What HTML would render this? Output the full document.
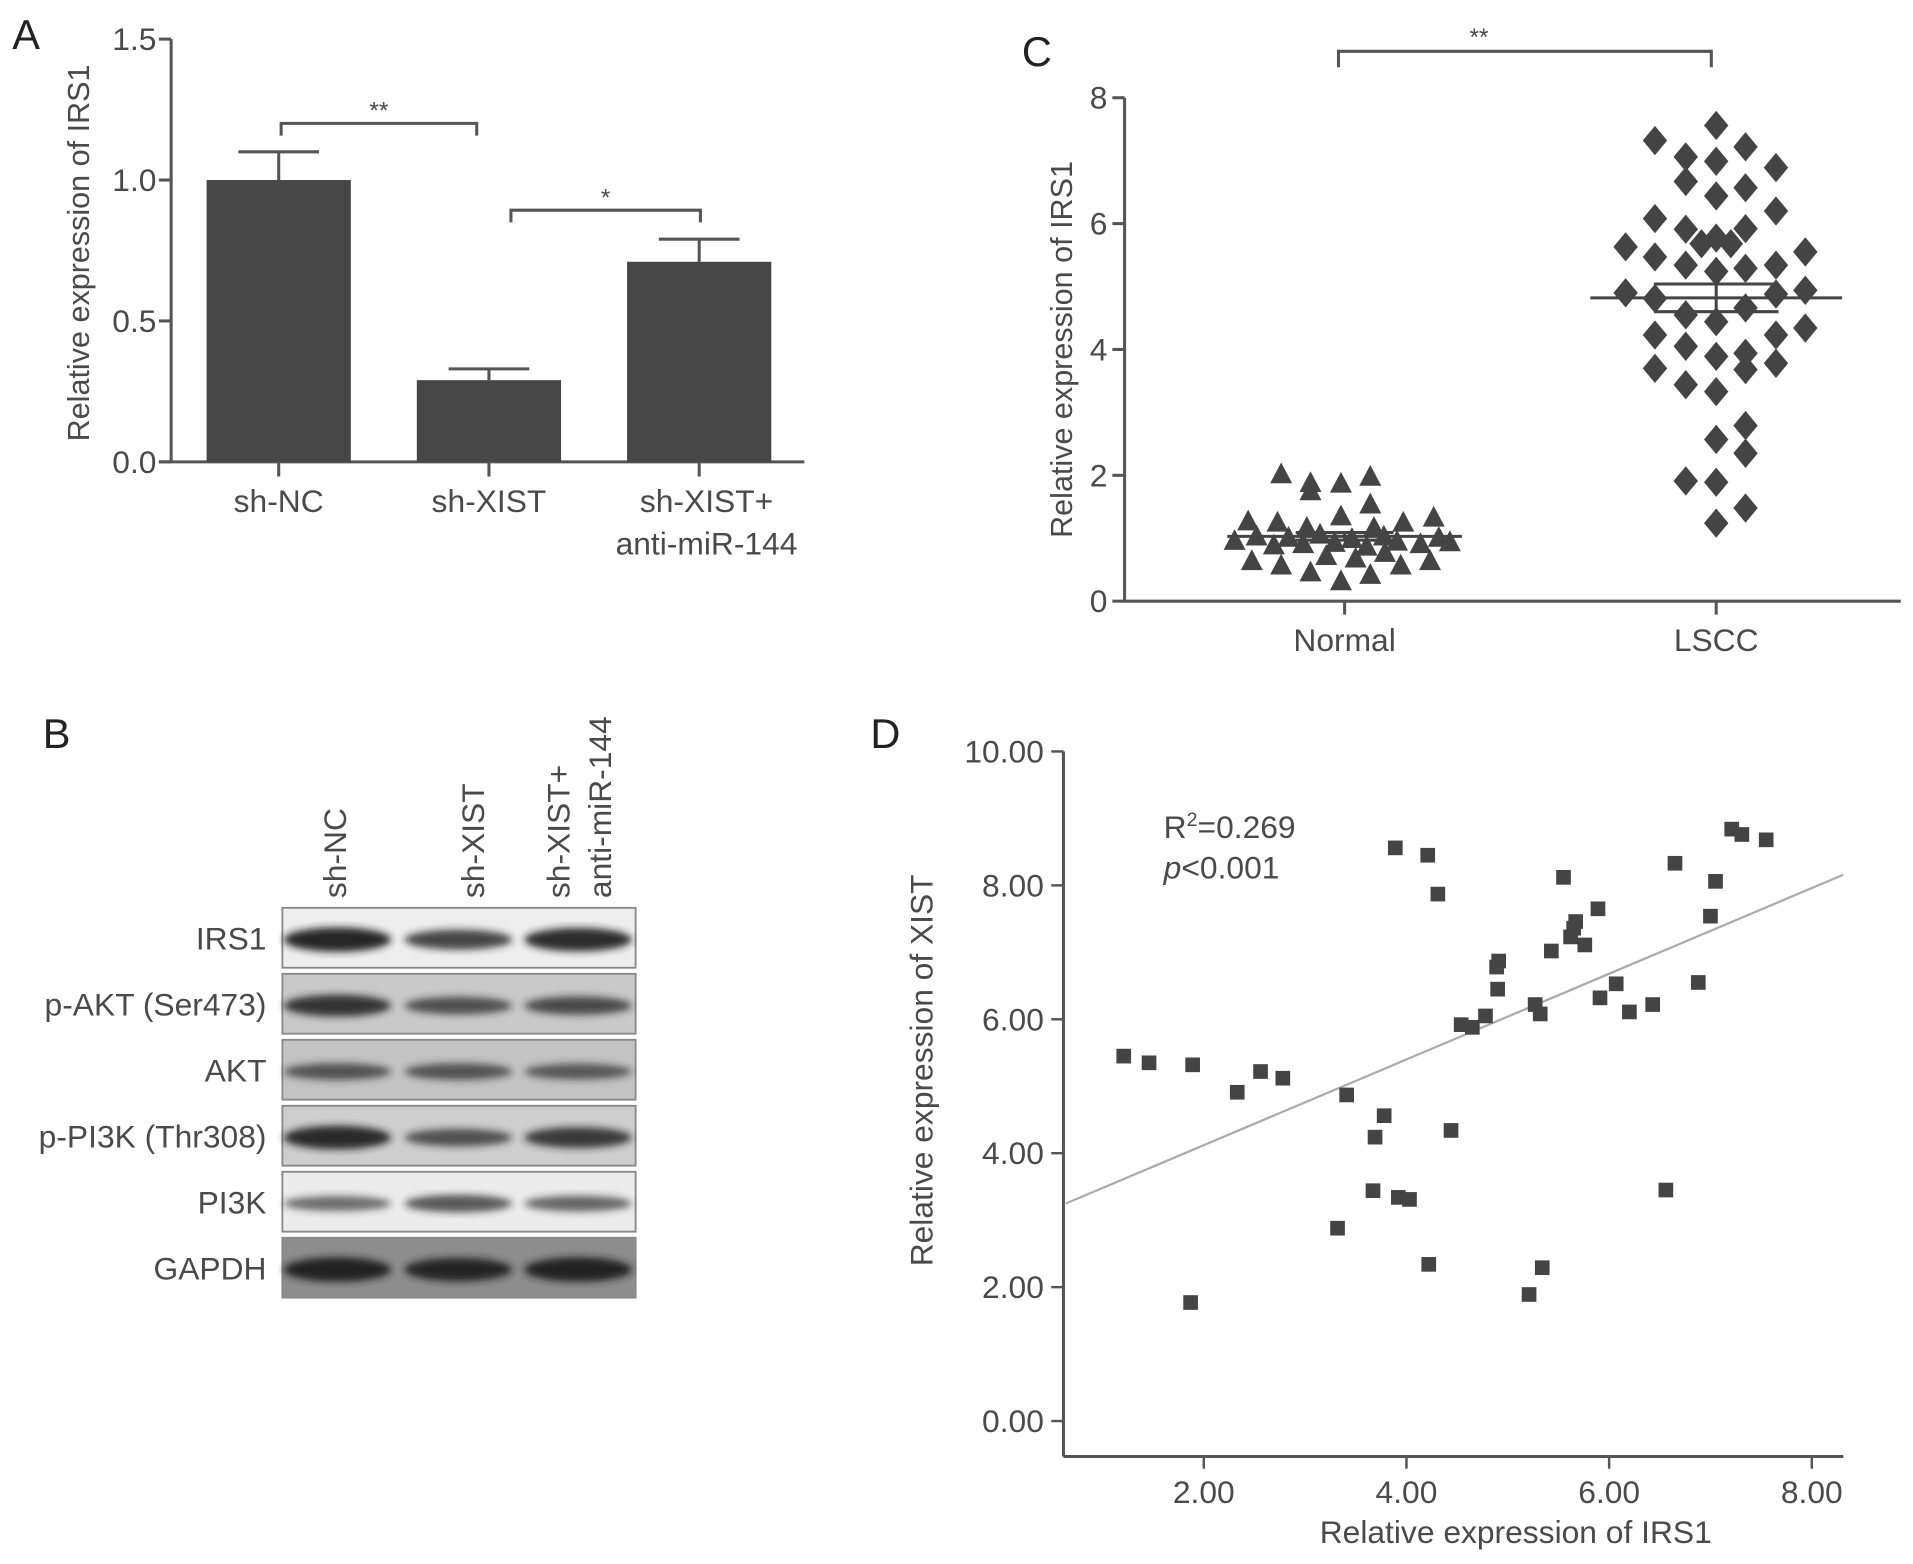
<!DOCTYPE html>
<html><head><meta charset="utf-8"><style>
html,body{margin:0;padding:0;background:#fff}
svg{display:block}
text{font-family:"Liberation Sans",sans-serif;fill:#4a4a4a}
</style></head><body>
<svg id="fig" xmlns="http://www.w3.org/2000/svg" width="1913" height="1564" viewBox="0 0 1565 1280" preserveAspectRatio="none">
<defs><filter id="blur" x="-20%" y="-100%" width="140%" height="300%"><feGaussianBlur stdDeviation="3"/></filter></defs>
<g id="gA"></g>
<g id="gB"></g>
<g id="gC"></g>
<g id="gD"></g>
</svg>
<script>
// ---- Panel A data
const aCategories = [["sh-NC"], ["sh-XIST"], ["sh-XIST+", "anti-miR-144"]];
const aValues = [1.0, 0.29, 0.71];
const aErrors = [0.10, 0.04, 0.08];
const aTicks = ["0.0", "0.5", "1.0", "1.5"];
const aTickVals = [0, 0.5, 1.0, 1.5];
// ---- Panel B data
const bProteins = ["IRS1", "p-AKT (Ser473)", "AKT", "p-PI3K (Thr308)", "PI3K", "GAPDH"];
const bLanes = [["sh-NC"], ["sh-XIST"], ["sh-XIST+", "anti-miR-144"]];
const bIntensity = [[1.0, 0.75, 0.95], [0.85, 0.6, 0.65], [0.55, 0.55, 0.5], [0.95, 0.6, 0.8], [0.45, 0.6, 0.5], [1.0, 0.95, 1.0]];
const bBackground = ["#eeeeee", "#c9c9c9", "#c3c3c3", "#cecece", "#ececec", "#8d8d8d"];
// ---- Panel C data
const cCategories = ["Normal", "LSCC"];
const cTicks = ["0", "2", "4", "6", "8"];
const cTickVals = [0, 2, 4, 6, 8];
const normalValues = [2.01,1.87,1.74,1.86,1.97,1.53,1.34,1.26,1.24,1.32,1.24,1.16,1.16,0.95,1.02,0.88,1.0,0.9,1.05,0.92,0.98,0.86,1.02,0.94,0.9,1.0,0.93,0.63,0.56,0.45,0.71,0.31,0.67,0.41,0.76,0.56,0.63];
const normalJitter = [-0.173,-0.093,-0.093,-0.01,0.07,0.07,-0.01,-0.263,-0.183,0.243,0.16,-0.103,0.08,-0.3,-0.24,-0.193,-0.153,-0.113,-0.067,-0.027,0.02,0.06,0.107,0.143,0.207,0.257,0.287,-0.253,-0.173,-0.093,-0.05,-0.01,0.03,0.07,0.11,0.153,0.233];
const normalMean = [1.03];
const normalSem = [0.06];
const lsccValues = [7.56,7.32,7.22,7.06,6.99,6.89,6.67,6.57,6.44,6.2,6.08,5.91,5.92,5.68,5.77,5.68,5.63,5.47,5.34,5.24,5.29,5.34,5.55,4.9,4.81,4.88,4.94,4.55,4.44,4.66,4.23,4.23,4.34,4.05,3.89,3.94,3.68,3.7,3.78,3.44,3.33,2.79,2.57,2.35,1.91,1.89,1.48,1.24];
const lsccJitter = [0,-0.167,0.08,-0.083,0,0.163,-0.083,0.08,0,0.163,-0.167,-0.083,0.08,-0.04,0,0.04,-0.247,-0.167,-0.083,0,0.08,0.163,0.243,-0.247,-0.167,0.163,0.243,-0.083,0,0.08,-0.167,0.163,0.243,-0.083,0,0.08,0.08,-0.167,0.163,-0.083,0,0.08,0,0.08,-0.083,0,0.08,0];
const lsccMean = [4.82];
const lsccSem = [0.22];
// ---- Panel D data
const dXTicks = ["2.00", "4.00", "6.00", "8.00"];
const dXTickVals = [2, 4, 6, 8];
const dYTicks = ["0.00", "2.00", "4.00", "6.00", "8.00", "10.00"];
const dYTickVals = [0, 2, 4, 6, 8, 10];
const dIRS1 = [1.21,1.46,1.89,2.33,2.56,2.78,1.87,3.32,3.41,3.78,3.69,3.67,3.92,4.03,3.89,4.21,4.31,4.22,4.44,4.54,4.65,4.78,4.89,4.91,4.90,5.27,5.32,5.21,5.34,5.43,5.55,5.62,5.65,5.67,5.76,5.89,5.91,6.07,6.20,6.43,6.56,6.65,6.88,7.00,7.05,7.21,7.31,7.55];
const dXIST = [5.45,5.35,5.32,4.91,5.22,5.12,1.77,2.88,4.87,4.56,4.24,3.44,3.34,3.31,8.56,8.45,7.87,2.34,4.34,5.92,5.88,6.05,6.78,6.87,6.45,6.22,6.08,1.89,2.29,7.02,8.12,7.23,7.36,7.46,7.11,7.65,6.32,6.53,6.11,6.22,3.45,8.33,6.55,7.54,8.06,8.84,8.76,8.68];
const dFit = [2.84, 0.64]; // intercept, slope
const dStats = ["0.269", "0.001"];

const NS = "http://www.w3.org/2000/svg";
function mk(parent, tag, attrs, txt) {
  const e = document.createElementNS(NS, tag);
  for (const k in attrs) e.setAttribute(k, attrs[k]);
  if (txt !== undefined) e.textContent = txt;
  parent.appendChild(e);
  return e;
}
const AX = "#555";

// ================= Panel A
(function(){
  const g = document.getElementById("gA");
  const y = v => 378 - v / 1.5 * 346;
  const bandX = i => 228 + i * 172;
  let t = mk(g, "text", {x: 10, y: 40, "font-size": 34, style: "fill:#222"}, "A");
   
  let l = mk(g, "line", {x1: 140, y1: y(1.5), x2: 140, y2: 378, stroke: AX, "stroke-width": 2.5});
   
  l = mk(g, "line", {x1: 130, y1: 378, x2: 658, y2: 378, stroke: AX, "stroke-width": 2.5});
   
  aTickVals.forEach((v, i) => {
    const tk = mk(g, "line", {x1: 130, y1: y(v), x2: 140, y2: y(v), stroke: AX, "stroke-width": 2.5});
     
    const tl = mk(g, "text", {x: 128, y: y(v) + 9, "text-anchor": "end", "font-size": 26}, aTicks[i]);
     
  });
  t = mk(g, "text", {x: 0, y: 0, "font-size": 25, "text-anchor": "middle", transform: "translate(73,207) rotate(-90)"}, "Relative expression of IRS1");
   
  aValues.forEach((v, i) => {
    const cx = bandX(i);
    const b = mk(g, "rect", {x: cx - 59, y: y(v), width: 118, height: 378 - y(v), fill: "#474747"});
    
    
    const e = mk(g, "path", {d: `M${cx},${y(v)}V${y(v + aErrors[i])}M${cx - 33},${y(v + aErrors[i])}H${cx + 33}`, stroke: AX, "stroke-width": 2.5, fill: "none"});
     
    const tk = mk(g, "line", {x1: cx, y1: 378, x2: cx, y2: 390, stroke: AX, "stroke-width": 2.5});
     
    aCategories[i].forEach((s, j) => {
      const tl = mk(g, "text", {x: cx + (aCategories[i].length > 1 ? 6 : 0), y: 419 + j * 35, "text-anchor": "middle", "font-size": 26}, s);
       
    });
  });
  [[bandX(0) + 2, bandX(1) - 10, 101, "**"], [bandX(1) + 18, bandX(2) + 1, 172, "*"]].forEach(s => {
    const p = mk(g, "path", {d: `M${s[0]},${s[2] + 10}V${s[2]}H${s[1]}V${s[2] + 10}`, stroke: AX, "stroke-width": 2.5, fill: "none"});
     
    const st = mk(g, "text", {x: (s[0] + s[1]) / 2, y: s[2] - 4, "text-anchor": "middle", "font-size": 20}, s[3]);
     
  });
})();

// ================= Panel B
(function(){
  const g = document.getElementById("gB");
  let t = mk(g, "text", {x: 35, y: 612, "font-size": 34, style: "fill:#222"}, "B");
   
  const laneX = [275, 388, 475];
  bLanes.forEach((ln, i) => {
    ln.forEach((s, j) => {
      const xx = laneX[i] + (ln.length > 1 ? (j === 0 ? -17 : 17) : 0) + 8;
      const tl = mk(g, "text", {x: 0, y: 0, "font-size": 26, transform: `translate(${xx},735) rotate(-90)`}, s);
       
    });
  });
  const laneCenters = [276, 375, 473];
  bProteins.forEach((p, r) => {
    const top = 743 + r * 54;
    const box = mk(g, "rect", {x: 231, y: top, width: 289, height: 49, fill: bBackground[r], stroke: "#888", "stroke-width": 1.5});
    
    
    bIntensity[r].forEach((v, c) => {
      const op = Math.min(1, v);
      const band = mk(g, "ellipse", {cx: laneCenters[c], cy: top + 26, rx: 44, ry: 3 + v * 7, fill: "#1e1e1e", opacity: 0.35 + op * 0.6, filter: "url(#blur)"});
       
    });
    const tl = mk(g, "text", {x: 218, y: top + 34, "text-anchor": "end", "font-size": 26}, p);
     
  });
})();

// ================= Panel C
(function(){
  const g = document.getElementById("gC");
  const y = v => 492 - v * 51.5;
  const cx = [1100, 1404];
  const jx = (i, j) => cx[i] + j * 300;
  let t = mk(g, "text", {x: 836, y: 54, "font-size": 34, style: "fill:#222"}, "C");
   
  let l = mk(g, "line", {x1: 920, y1: y(8), x2: 920, y2: 492, stroke: AX, "stroke-width": 2.5});
   
  l = mk(g, "line", {x1: 920, y1: 492, x2: 1555, y2: 492, stroke: AX, "stroke-width": 2.5});
   
  cTickVals.forEach((v, i) => {
    const tk = mk(g, "line", {x1: 910, y1: y(v), x2: 920, y2: y(v), stroke: AX, "stroke-width": 2.5});
     
    const tl = mk(g, "text", {x: 906, y: y(v) + 9, "text-anchor": "end", "font-size": 26}, cTicks[i]);
     
  });
  t = mk(g, "text", {x: 0, y: 0, "font-size": 25, "text-anchor": "middle", transform: "translate(877,286) rotate(-90)"}, "Relative expression of IRS1");
   
  cCategories.forEach((c, i) => {
    const tk = mk(g, "line", {x1: cx[i], y1: 492, x2: cx[i], y2: 503, stroke: AX, "stroke-width": 2.5});
     
    const tl = mk(g, "text", {x: cx[i], y: 533, "text-anchor": "middle", "font-size": 26}, c);
     
  });
  normalValues.forEach((v, k) => {
    const px = jx(0, normalJitter[k]), py = y(v);
    const tri = mk(g, "polygon", {points: `${px},${py - 10} ${px - 9},${py + 7} ${px + 9},${py + 7}`, fill: "#444"});
     
  });
  lsccValues.forEach((v, k) => {
    const px = jx(1, lsccJitter[k]), py = y(v);
    const d = mk(g, "polygon", {points: `${px},${py - 12} ${px + 10},${py} ${px},${py + 12} ${px - 10},${py}`, fill: "#444"});
     
  });
  [[0, normalMean[0], normalSem[0], 96, 40], [1, lsccMean[0], lsccSem[0], 103, 51]].forEach(s => {
    const c = cx[s[0]];
    const m = mk(g, "line", {x1: c - s[3], y1: y(s[1]), x2: c + s[3], y2: y(s[1]), stroke: "#444", "stroke-width": 2.5});
     
    const e = mk(g, "path", {d: `M${c},${y(s[1] - s[2])}V${y(s[1] + s[2])}M${c - s[4]},${y(s[1] + s[2])}H${c + s[4]}M${c - s[4]},${y(s[1] - s[2])}H${c + s[4]}`, stroke: "#444", "stroke-width": 2.5, fill: "none"});
     
  });
  const p = mk(g, "path", {d: `M1095,55V42H1400V55`, stroke: AX, "stroke-width": 2.5, fill: "none"});
   
  const st = mk(g, "text", {x: 1210, y: 37, "text-anchor": "middle", "font-size": 20}, "**");
   
})();

// ================= Panel D
(function(){
  const g = document.getElementById("gD");
  const x = v => 819 + v * 82.9;
  const y = v => 1163 - v * 54.8;
  let t = mk(g, "text", {x: 712, y: 612, "font-size": 34, style: "fill:#222"}, "D");
   
  let l = mk(g, "line", {x1: 870, y1: y(10), x2: 870, y2: 1192, stroke: AX, "stroke-width": 2.5});
   
  l = mk(g, "line", {x1: 870, y1: 1192, x2: 1508, y2: 1192, stroke: AX, "stroke-width": 2.5});
   
  dYTickVals.forEach((v, i) => {
    const tk = mk(g, "line", {x1: 860, y1: y(v), x2: 870, y2: y(v), stroke: AX, "stroke-width": 2});
     
    const tl = mk(g, "text", {x: 854, y: y(v) + 9, "text-anchor": "end", "font-size": 26}, dYTicks[i]);
     
  });
  dXTickVals.forEach((v, i) => {
    const tk = mk(g, "line", {x1: x(v), y1: 1192, x2: x(v), y2: 1202, stroke: AX, "stroke-width": 2});
     
    const tl = mk(g, "text", {x: x(v), y: 1230, "text-anchor": "middle", "font-size": 26}, dXTicks[i]);
     
  });
  t = mk(g, "text", {x: 1240, y: 1263, "text-anchor": "middle", "font-size": 26}, "Relative expression of IRS1");
   
  t = mk(g, "text", {x: 0, y: 0, "font-size": 26, "text-anchor": "middle", transform: "translate(763,876) rotate(-90)"}, "Relative expression of XIST");
   
  const x0 = (872 - 819) / 82.9, x1 = (1508 - 819) / 82.9;
  const fl = mk(g, "line", {x1: x(x0), y1: y(dFit[0] + dFit[1] * x0), x2: x(x1), y2: y(dFit[0] + dFit[1] * x1), stroke: "#aaa", "stroke-width": 1.8});
   
  dIRS1.forEach((v, k) => {
    const r = mk(g, "rect", {x: x(v) - 6, y: y(dXIST[k]) - 6, width: 12, height: 12, fill: "#444"});
     
  });
  t = mk(g, "text", {x: 952, y: 686, "font-size": 26});
   
  t.innerHTML = 'R<tspan dy="-10" font-size="16">2</tspan><tspan dy="10">=' + dStats[0] + '</tspan>';
  t = mk(g, "text", {x: 952, y: 719, "font-size": 26});
   
  t.innerHTML = '<tspan font-style="italic">p</tspan>&lt;' + dStats[1];
})();
</script>
</body></html>
